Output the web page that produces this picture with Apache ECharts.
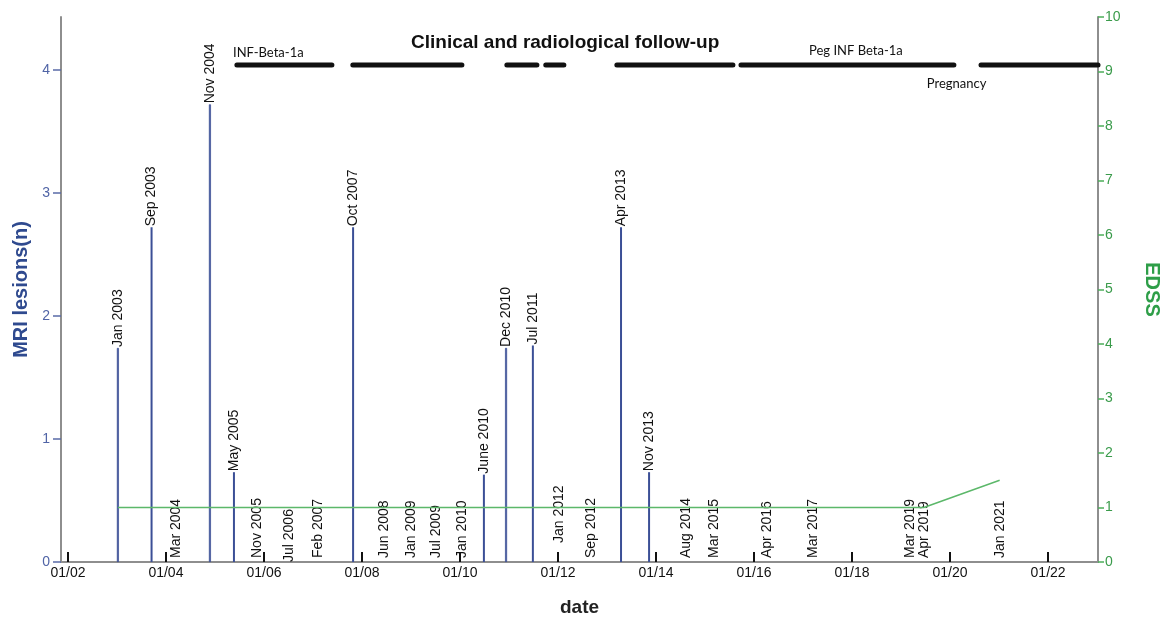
<!DOCTYPE html>
<html>
<head>
<meta charset="utf-8">
<script src="https://cdn.jsdelivr.net/npm/echarts@6/dist/echarts.min.js"></script>
<style>
  html, body { margin: 0; padding: 0; background: #fff; }
  #main { width: 1170px; height: 622px; }
</style>
</head>
<body>
<div id="main"></div>
<script>
// MRI exams with new lesions (stems)
const stemDates = ['2003-01-08', '2003-09-16', '2004-11-24', '2005-05-22', '2007-10-27',
                   '2010-06-28', '2010-12-10', '2011-06-28', '2013-04-15', '2013-11-10']
const stemLabels = ['Jan 2003', 'Sep 2003', 'Nov 2004', 'May 2005', 'Oct 2007',
                    'June 2010', 'Dec 2010', 'Jul 2011', 'Apr 2013', 'Nov 2013']
const mriLesions = [1.74, 2.72, 3.72, 0.73, 2.72, 0.71, 1.74, 1.76, 2.72, 0.73]

// MRI exams with no new lesion
const zeroDates = ['2004-03-15', '2005-11-12', '2006-07-05', '2007-02-07', '2008-06-13',
                   '2009-01-01', '2009-07-05', '2010-01-15', '2012-01-08', '2012-09-02',
                   '2014-08-10', '2015-03-08', '2016-04-08', '2017-03-15', '2019-05-01', '2021-01-08']
const zeroLabels = ['Mar 2004', 'Nov 2005', 'Jul 2006', 'Feb 2007', 'Jun 2008',
                    'Jan 2009', 'Jul 2009', 'Jan 2010', 'Jan 2012', 'Sep 2012',
                    'Aug 2014', 'Mar 2015', 'Apr 2016', 'Mar 2017', 'Mar 2019\nApr 2019', 'Jan 2021']

// EDSS score
const edssDates = ['2003-01-08', '2019-06-20', '2021-01-05']
const edssValues = [1, 1, 1.5]

// treatment periods (drawn on the EDSS scale)
const treatStart = ['2005-06-13', '2007-10-25', '2010-12-16', '2011-10-02', '2013-03-15', '2015-09-26', '2020-08-19']
const treatEnd   = ['2007-05-22', '2010-01-15', '2011-07-28', '2012-02-14', '2015-07-28', '2020-01-30', '2023-01-08']
const treatLevel = 9.12

// annotations
const noteTexts  = ['INF-Beta-1a', 'Peg INF Beta-1a', 'Pregnancy']
const noteDates  = ['2005-05-15', '2017-02-14', '2019-07-12']
const noteLevels = [9.34, 9.38, 8.77]

// ticks
const xTickDates  = ['2002-01-01', '2004-01-01', '2006-01-01', '2008-01-01', '2010-01-01', '2012-01-01',
                     '2014-01-01', '2016-01-01', '2018-01-01', '2020-01-01', '2022-01-01']
const xTickLabels = ['01/02', '01/04', '01/06', '01/08', '01/10', '01/12',
                     '01/14', '01/16', '01/18', '01/20', '01/22']
const mriTicks = [0, 1, 2, 3, 4]

// styling helpers (not data)
const thickStems = ['Jan 2003', 'Nov 2004', 'Dec 2010']
const labelLift = {'Jan 2012': 19, 'Jul 2006': 0}

const t = s => {
    const [y, m, d] = s.split('-').map(Number)
    return Date.UTC(y, m - 1, d || 1)
}
const xTickValues = xTickDates.map(t)

const blue = '#3b4f96'
const green = '#3a9b4b'
const axisGray = '#8e8e8e'

const rotLabel = {
    show: true,
    formatter: '{b}',
    rotate: 90,
    align: 'left',
    verticalAlign: 'middle',
    fontFamily: 'Liberation Sans',
    fontWeight: 'normal',
    fontSize: 14,
    color: '#111',
    opacity: 1
}

const stemData = stemDates.map((d, i) => ({
    value: [t(d), mriLesions[i]],
    name: stemLabels[i],
    itemStyle: thickStems.includes(stemLabels[i]) ? {borderColor: blue, borderWidth: 0.7} : {}
}))

const zeroData = zeroDates.map((d, i) => {
    const item = {value: [t(d), 0], name: zeroLabels[i]}
    if (labelLift[zeroLabels[i]] !== undefined) item.label = {distance: labelLift[zeroLabels[i]]}
    return item
})

const treatSeries = treatStart.map((s, i) => ({
    type: 'line',
    yAxisIndex: 1,
    data: [[t(s), treatLevel], [t(treatEnd[i]), treatLevel]],
    symbol: 'none',
    silent: true,
    clip: false,
    lineStyle: {color: '#111', width: 5, cap: 'round'}
}))

const chart = echarts.init(document.getElementById('main'))
chart.setOption({
    animation: false,
    backgroundColor: '#fff',
    title: {
        text: 'Clinical and radiological follow-up',
        left: 406,
        top: 28,
        textStyle: {fontFamily: 'Liberation Sans', fontWeight: 'bold', fontSize: 19, color: '#111'}
    },
    grid: {left: 61, right: 72, top: 17, bottom: 60, containLabel: false},
    xAxis: {
        type: 'value',
        min: t('2001-11-10'),
        max: t('2023-01-08'),
        name: 'date',
        nameLocation: 'middle',
        nameGap: 36,
        nameTextStyle: {fontFamily: 'Liberation Sans', fontWeight: 'bold', fontSize: 19, color: '#222'},
        axisLine: {lineStyle: {color: axisGray, width: 2}},
        axisTick: {
            inside: true, length: 10,
            customValues: xTickValues,
            lineStyle: {color: '#111', width: 2}
        },
        axisLabel: {
            customValues: xTickValues,
            formatter: v => xTickLabels[xTickValues.indexOf(v)] || '',
            fontFamily: 'Liberation Sans',
            fontSize: 14,
            color: '#111',
            margin: 4
        },
        splitLine: {show: false}
    },
    yAxis: [{
        type: 'value',
        min: 0,
        max: 4.43,
        position: 'left',
        name: 'MRI lesions(n)',
        nameLocation: 'middle',
        nameGap: 29,
        nameTextStyle: {fontFamily: 'Liberation Sans', fontWeight: 'bold', fontSize: 20, color: '#2f4a8f'},
        axisLine: {show: true, lineStyle: {color: axisGray, width: 2}},
        axisTick: {show: true, length: 8, customValues: mriTicks, lineStyle: {color: '#5a6ba8', width: 1.5}},
        axisLabel: {customValues: mriTicks, fontFamily: 'Liberation Sans', fontSize: 14, color: '#5064a6', margin: 11},
        splitLine: {show: false}
    }, {
        type: 'value',
        min: 0,
        max: 10,
        interval: 1,
        position: 'right',
        name: 'EDSS',
        nameLocation: 'middle',
        nameRotate: -90,
        nameGap: 44,
        nameTextStyle: {fontFamily: 'Liberation Sans', fontWeight: 'bold', fontSize: 20, color: '#2e9e48'},
        axisLine: {show: true, lineStyle: {color: axisGray, width: 2}},
        axisTick: {show: true, length: 6, lineStyle: {color: '#4caf5a', width: 1.5}},
        axisLabel: {fontFamily: 'Liberation Sans', fontSize: 14, color: green, margin: 7},
        splitLine: {show: false}
    }],
    series: [
        {
            name: 'MRI lesions',
            type: 'bar',
            yAxisIndex: 0,
            barWidth: 2,
            itemStyle: {color: blue},
            label: Object.assign({}, rotLabel, {position: 'top', distance: 1}),
            data: stemData
        },
        {
            name: 'MRI no lesion',
            type: 'scatter',
            yAxisIndex: 0,
            symbolSize: 0,
            silent: true,
            itemStyle: {opacity: 1},
            label: Object.assign({}, rotLabel, {position: 'top', distance: 4}),
            data: zeroData
        },
        {
            name: 'EDSS',
            type: 'line',
            yAxisIndex: 1,
            showSymbol: false,
            symbol: 'none',
            lineStyle: {color: '#5cb86a', width: 1.5},
            data: edssDates.map((d, i) => [t(d), edssValues[i]])
        },
        ...treatSeries,
        {
            name: 'notes',
            type: 'scatter',
            yAxisIndex: 1,
            symbolSize: 0,
            silent: true,
            itemStyle: {opacity: 1},
            label: {
                show: true,
                formatter: '{b}',
                position: 'right',
                distance: 0,
                fontFamily: 'Lato',
                fontSize: 13,
                color: '#111'
            },
            data: noteDates.map((d, i) => ({value: [t(d), noteLevels[i]], name: noteTexts[i]}))
        }
    ]
})
</script>
</body>
</html>
